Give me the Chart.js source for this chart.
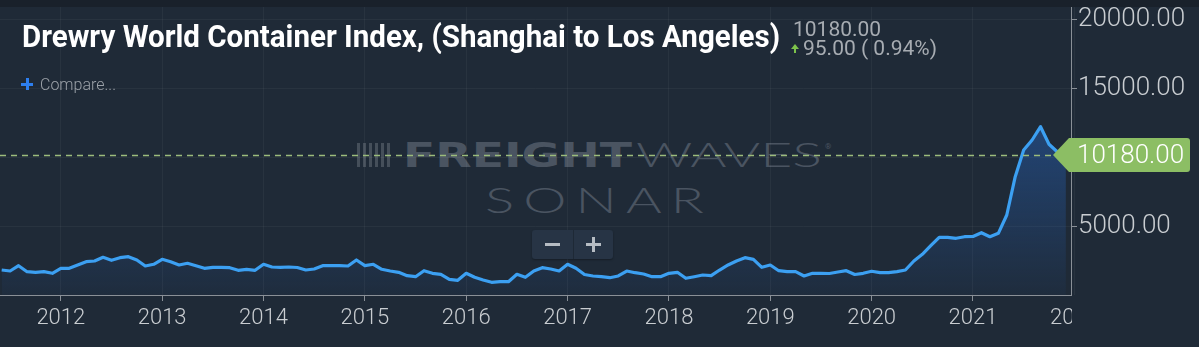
<!DOCTYPE html>
<html>
<head>
<meta charset="utf-8">
<script src="https://cdn.jsdelivr.net/npm/chart.js@4.4.0/dist/chart.umd.min.js"></script>
<style>
  html, body { margin: 0; padding: 0; background: #1f2a37; }
  #wrap { position: relative; width: 1199px; height: 347px; overflow: hidden; background: #1f2a37; font-family: Roboto, sans-serif; }
  #topband { position: absolute; left: 0; top: 0; width: 1199px; height: 7px; background: #19212b; }
  canvas { position: absolute; left: 0; top: 0; }
  .abs { position: absolute; white-space: nowrap; transform-origin: 0 0; }
  #title { left: 22px; top: 20px; font-size: 32px; line-height: 32px; font-weight: 700; color: #fff; }
  .price { left: 793px; font-size: 21px; line-height: 21px; color: #a7acb2; }
  #compare { left: 40px; top: 77px; font-size: 16px; line-height: 16px; font-weight: 300; color: #9ca2a9; }
  .wm { color: #4a5461; }
  #freight { left: 403px; top: 139px; font-family: "DejaVu Sans", sans-serif; font-weight: 700; font-size: 33px; line-height: 33px; }
  #waves { left: 636px; top: 138px; font-family: Lato, sans-serif; font-weight: 300; font-size: 33px; line-height: 33px; }
  #sonar { left: 485px; top: 181px; font-family: Lato, sans-serif; font-weight: 300; font-size: 36px; line-height: 36px; letter-spacing: 6px; }
  #zoomBox { position: absolute; left: 532px; top: 230px; width: 81px; height: 29px; background: #273445; border-radius: 3px; box-shadow: 0 1px 2px rgba(0,0,0,0.3); }
  .bar { position: absolute; background: #b6bcc3; }
</style>
</head>
<body>
<div id="wrap">
  <div id="topband"></div>
  <!-- watermark sits under the canvas -->
  <div class="abs" style="left:357px;top:143px;width:33px;height:24px;background:repeating-linear-gradient(90deg,#454f5a 0 3px,transparent 3px 6px);"></div>
  <div id="freight" class="abs wm">FREIGHT</div>
  <div id="waves" class="abs wm">WAVES</div>
  <div class="abs wm" style="left:825px;top:142px;font-size:8px;">®</div>
  <div id="sonar" class="abs wm">SONAR</div>

  <canvas id="chart" width="1199" height="347"></canvas>

  <div id="title" class="abs">Drewry World Container Index, (Shanghai to Los Angeles)</div>
  <div class="abs price" style="top:19px;">10180.00</div>
  <div class="abs" style="left:791px;top:44px;width:0;height:0;border-left:4px solid transparent;border-right:4px solid transparent;border-bottom:5px solid #7dc24b;"></div>
  <div class="abs" style="left:794px;top:49px;width:2px;height:4px;background:#7dc24b;"></div>
  <div class="abs price" style="left:803px;top:38px;">95.00 ( 0.94%)</div>
  <div class="abs" style="left:21px;top:83px;width:12px;height:3px;background:#2d7ff0;"></div>
  <div class="abs" style="left:25.5px;top:78px;width:3px;height:12px;background:#2d7ff0;"></div>
  <div id="compare" class="abs">Compare...</div>

  <div id="zoomBox">
    <div class="bar" style="left:13px;top:13px;width:15px;height:3px;"></div>
    <div style="position:absolute;left:41px;top:0;width:1px;height:29px;background:#1e2936;"></div>
    <div class="bar" style="left:54px;top:13px;width:15px;height:3px;"></div>
    <div class="bar" style="left:60px;top:7px;width:3px;height:15px;"></div>
  </div>
</div>

<script>
// Drewry WCI Shanghai -> Los Angeles, monthly, Jun 2011 .. Dec 2021 (USD per 40ft)
const firstMonth = 2011 + 5 / 12;
const wciValues = [
  1818, 1745, 2131, 1695, 1651, 1695, 1578,                               // 2011
  1942, 1942, 2182, 2422, 2473, 2742, 2524, 2713, 2785, 2545, 2109, 2233, // 2012
  2596, 2422, 2182, 2305, 2131, 1942, 2015, 2015, 1985, 1796, 1869, 1796, // 2013
  2233, 2036, 2015, 2036, 2000, 1818, 1891, 2131, 2131, 2131, 2109, 2545, // 2014
  2131, 2233, 1869, 1745, 1651, 1404, 1331, 1767, 1578, 1505, 1142, 1069, // 2015
  1578, 1287, 1091, 924, 967, 967, 1505, 1287, 1745, 1985, 1891, 1745,    // 2016
  2233, 1942, 1491, 1382, 1331, 1258, 1382, 1745, 1622, 1527, 1331, 1331, // 2017
  1578, 1651, 1215, 1331, 1455, 1404, 1818, 2182, 2473, 2713, 2596, 2015, // 2018
  2182, 1767, 1695, 1695, 1382, 1578, 1578, 1564, 1673, 1767, 1491, 1578, // 2019
  1724, 1622, 1622, 1695, 1818, 2473, 2960, 3585, 4196, 4196, 4124, 4240, // 2020
  4255, 4531, 4240, 4487, 5818, 8604, 10545, 11273, 12240, 10960, 10400, 10180 // 2021
];
const years = [2012, 2013, 2014, 2015, 2016, 2017, 2018, 2019, 2020, 2021, 2022];
const yTicks = [5000, 10000, 15000, 20000];
const lastValue = 10180;

const xMin = 2011.4;
const xMax = 2021.967;
const yMax = 20945;
const bg = '#1f2a37';
const axisGray = '#8a9097';
const labelGray = '#c9cdd1';
const lineBlue = '#3ca0f2';

// squeeze text so it spans the same width as in the screenshot
function fitWidth(id, w) {
  const el = document.getElementById(id);
  el.style.transform = 'scaleX(' + (w / el.getBoundingClientRect().width) + ')';
}

const overlay = {
  id: 'overlay',
  afterDatasetsDraw(chart) {
    const { ctx, chartArea } = chart;
    const y = Math.round(chart.scales.y.getPixelForValue(lastValue)) + 0.5;
    ctx.save();
    ctx.strokeStyle = '#9cbc7c';
    ctx.lineWidth = 1.3;
    ctx.setLineDash([6, 5]);
    ctx.beginPath();
    ctx.moveTo(chartArea.left, y);
    ctx.lineTo(chartArea.right - 18, y);
    ctx.stroke();
    ctx.restore();
  },
  afterDraw(chart) {
    const { ctx, chartArea } = chart;
    ctx.save();
    // hide the part of the last year label beyond the plot
    ctx.fillStyle = bg;
    ctx.fillRect(chartArea.right + 1, chartArea.bottom + 1, chart.width, chart.height);

    // current value flag
    const y = chart.scales.y.getPixelForValue(lastValue);
    const tip = chartArea.right - 18;
    const right = chart.width - 9;
    ctx.fillStyle = '#8cbe64';
    ctx.beginPath();
    ctx.moveTo(tip, y);
    ctx.lineTo(tip + 16, y - 17);
    ctx.lineTo(right - 3, y - 17);
    ctx.quadraticCurveTo(right, y - 17, right, y - 14);
    ctx.lineTo(right, y + 14);
    ctx.quadraticCurveTo(right, y + 17, right - 3, y + 17);
    ctx.lineTo(tip + 16, y + 17);
    ctx.closePath();
    ctx.fill();
    ctx.fillStyle = '#ffffff';
    ctx.font = '300 26px Roboto';
    ctx.textBaseline = 'middle';
    ctx.fillText(lastValue.toFixed(2), tip + 24, y + 1);
    ctx.restore();
  }
};

const ctx = document.getElementById('chart').getContext('2d');
new Chart(ctx, {
  type: 'line',
  data: {
    datasets: [{
      data: wciValues.map((v, i) => ({ x: firstMonth + i / 12, y: v })),
      borderColor: lineBlue,
      borderWidth: 3.2,
      borderJoinStyle: 'round',
      pointRadius: 0,
      tension: 0,
      fill: 'origin',
      backgroundColor: (context) => {
        const chart = context.chart;
        if (!chart.chartArea) return 'rgba(38,88,160,0.2)';
        const g = chart.ctx.createLinearGradient(0, chart.scales.y.getPixelForValue(12500), 0, chart.chartArea.bottom);
        g.addColorStop(0, 'rgba(38,92,170,0.55)');
        g.addColorStop(1, 'rgba(38,92,170,0.06)');
        return g;
      }
    }]
  },
  options: {
    responsive: false,
    animation: false,
    devicePixelRatio: 1,
    layout: { padding: { top: 7, left: 0, right: 0, bottom: 0 } },
    plugins: {
      legend: { display: false },
      tooltip: { enabled: false }
    },
    scales: {
      x: {
        type: 'linear',
        min: xMin,
        max: xMax,
        afterBuildTicks: (s) => { s.ticks = years.map(v => ({ value: v })); },
        afterFit: (s) => { s.height = 52; s.paddingLeft = 0; s.paddingRight = 0; },
        grid: { color: 'rgba(255,255,255,0.045)', tickColor: axisGray, tickLength: 6 },
        border: { color: axisGray, width: 1 },
        ticks: {
          color: labelGray,
          font: { family: 'Roboto', size: 22, weight: 300 },
          padding: 4,
          autoSkip: false,
          maxRotation: 0,
          callback: (v) => String(v)
        }
      },
      y: {
        position: 'right',
        min: 0,
        max: yMax,
        afterBuildTicks: (s) => { s.ticks = yTicks.map(v => ({ value: v })); },
        afterFit: (s) => { s.width = 128; s.paddingTop = 0; s.paddingBottom = 0; },
        grid: { color: 'rgba(255,255,255,0.045)', tickColor: axisGray, tickLength: 6 },
        border: { color: axisGray, width: 1 },
        ticks: {
          color: labelGray,
          font: { family: 'Roboto', size: 26, weight: 300 },
          padding: 1,
          callback: (v) => v.toFixed(2)
        }
      }
    }
  },
  plugins: [overlay]
});

fitWidth('title', 758);
fitWidth('freight', 229);
fitWidth('waves', 186);
fitWidth('sonar', 228);
</script>
</body>
</html>
